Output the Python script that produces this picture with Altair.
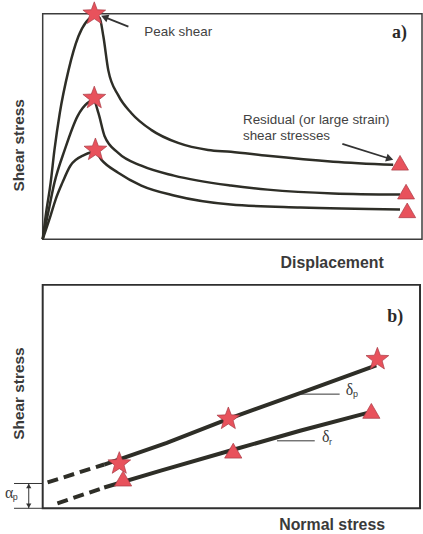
import math
import altair as alt
import pandas as pd

# ---------------- Panel a: shear stress vs displacement ----------------
c1_x = [0, 0.8, 2.1, 3.1, 4.5, 6.8, 9.4, 11.5, 12.9, 13.6, 15.0, 16.0, 17.3, 19.9, 23.4, 28.6, 35.7, 43.6, 49.6, 59.3, 76.6, 92.4]
c1_y = [0, 10.6, 25.1, 39.6, 55.9, 74.9, 89.9, 96.5, 98.7, 99.3, 98.2, 89.9, 74.9, 63.9, 55.9, 48.5, 42.7, 39.6, 38.8, 37.0, 34.4, 33.0]
c2_x = [0, 1.3, 3.1, 5.8, 9.2, 11.8, 13.4, 14.7, 16.3, 19.9, 26.0, 34.6, 49.6, 59.3, 76.6, 94.2]
c2_y = [0, 10.6, 25.1, 39.6, 54.6, 60.4, 61.7, 55.9, 45.8, 38.3, 32.6, 28.2, 23.8, 22.0, 20.3, 19.8]
c3_x = [0, 2.1, 3.4, 5.2, 7.3, 11.0, 13.9, 15.5, 19.9, 26.0, 34.6, 49.6, 68.0, 94.2]
c3_y = [0, 10.6, 17.6, 25.1, 32.6, 37.4, 38.8, 35.2, 29.5, 23.8, 19.4, 15.4, 14.1, 13.2]

peak_a_x = [13.6, 13.6, 13.9]
peak_a_y = [100.0, 62.6, 39.6]
resid_a_x = [94.2, 95.8, 96.1]
resid_a_y = [33.9, 21.1, 12.8]

notes_a = ["Peak shear", "Residual (or large strain)", "shear stresses"]
notes_a_x = [26.8, 52.8, 52.8]
notes_a_y = [92.1, 52.9, 45.8]

arrows_a_x = [22.6, 79.0]
arrows_a_y = [94.3, 42.3]
arrows_a_x2 = [16.3, 91.5]
arrows_a_y2 = [98.5, 35.7]

# ---------------- Panel b: shear stress vs normal stress ----------------
up_dash_x = [1.3, 16.3]
up_dash_y = [11.6, 19.6]
up_solid_x = [16.3, 32.9, 49.2, 68.2, 88.4]
up_solid_y = [19.6, 29.3, 40.0, 51.6, 64.0]
lo_dash_x = [3.9, 16.3]
lo_dash_y = [2.2, 9.3]
lo_solid_x = [16.3, 31.3, 50.5, 68.2, 86.1]
lo_solid_y = [9.3, 16.9, 26.2, 34.7, 42.7]

peak_b_x = [20.3, 49.2, 88.7]
peak_b_y = [20.0, 40.0, 66.7]
resid_b_x = [21.3, 50.5, 87.1]
resid_b_y = [13.3, 25.8, 43.6]

# leader lines for the friction angles and the cohesion bracket
lead_x = [68.2, 62.1, -7.6, -7.6, -3.7]
lead_x2 = [78.7, 72.1, 0.0, 0.0, -3.7]
lead_y = [51.1, 30.2, 11.1, 0.0, 0.0]
lead_y2 = [51.1, 30.2, 11.1, 0.0, 11.1]

heads_b_x = [-3.7, -3.7]
heads_b_y = [10.0, 1.1]
heads_b_ang = [0, 180]

greek = ["δ", "δ", "α"]
greek_x = [81.3, 75.0, -8.9]
greek_y = [52.9, 32.0, 6.7]
subs = ["p", "r", "p"]
subs_x = [82.9, 76.3, -7.3]
subs_y = [51.1, 29.8, 4.9]

# ---------------- styling ----------------
STAR = ("M0,-1L0.247,-0.34L0.951,-0.309L0.399,0.13L0.588,0.809L0,0.42"
        "L-0.588,0.809L-0.399,0.13L-0.951,-0.309L-0.247,-0.34Z")
INK = "#2e2e27"
TXT = "#3a3a3a"
NOTE = "#424242"
RED = "#e8525c"
EDGE = "#a83a44"
SANS = "Liberation Sans"
SERIF = "Liberation Serif"

WA, HA = 382, 227
WB, HB = 380, 225

sx = alt.Scale(domain=[0, 100], nice=False, zero=False)
sy = alt.Scale(domain=[0, 100], nice=False, zero=False)


def axis(title, **kw):
    return alt.Axis(title=title, labels=False, ticks=False, domain=False, grid=False,
                    titleFont=SANS, titleFontWeight="bold", titleColor=TXT,
                    titleAlign="center", titleBaseline="middle", **kw)


axA_x = axis("Displacement", titleFontSize=16, titleX=291, titleY=24)
axA_y = axis("Shear stress", titleFontSize=15.5, titleX=-24, titleY=132, titleAngle=270)
axB_x = axis("Normal stress", titleFontSize=16, titleX=291, titleY=16)
axB_y = axis("Shear stress", titleFontSize=15.5, titleX=-24, titleY=109, titleAngle=270)


def series_df(xs_list, ys_list, names):
    rows = []
    for n, xs, ys in zip(names, xs_list, ys_list):
        for i, (x, y) in enumerate(zip(xs, ys)):
            rows.append({"x": x, "y": y, "s": n, "i": i})
    return pd.DataFrame(rows)


def enc(ax, ay):
    return dict(x=alt.X("x:Q", scale=sx, axis=ax), y=alt.Y("y:Q", scale=sy, axis=ay))


# ---------------- panel a ----------------
curves = series_df([c1_x, c2_x, c3_x], [c1_y, c2_y, c3_y], ["c1", "c2", "c3"])
la = alt.Chart(curves).mark_line(interpolate="monotone", strokeWidth=2.5, color=INK).encode(
    detail="s:N", order="i:Q", **enc(axA_x, axA_y))

arr = pd.DataFrame({"x": arrows_a_x, "y": arrows_a_y, "x2": arrows_a_x2, "y2": arrows_a_y2})
arr["ang"] = [(math.degrees(math.atan2((b - a) * WA / 100, (d - c) * HA / 100))) % 360
              for a, b, c, d in zip(arrows_a_x, arrows_a_x2, arrows_a_y, arrows_a_y2)]
arr_rule = alt.Chart(arr).mark_rule(strokeWidth=1.8, color="#333").encode(
    x2="x2:Q", y2="y2:Q", **enc(axA_x, axA_y))
arr_head = alt.Chart(arr).mark_point(shape="triangle-up", filled=True, size=70, color="#333",
                                     opacity=1).encode(
    x=alt.X("x2:Q", scale=sx, axis=axA_x), y=alt.Y("y2:Q", scale=sy, axis=axA_y),
    angle=alt.Angle("ang:Q", scale=None))

stars_a = alt.Chart(pd.DataFrame({"x": peak_a_x, "y": peak_a_y})).mark_point(
    shape=STAR, size=580, filled=True, fill=RED, stroke=EDGE, strokeWidth=0.7, opacity=1
).encode(**enc(axA_x, axA_y))
tri_a = alt.Chart(pd.DataFrame({"x": resid_a_x, "y": resid_a_y})).mark_point(
    shape="triangle-up", size=290, filled=True, fill=RED, stroke=EDGE, strokeWidth=0.7, opacity=1
).encode(**enc(axA_x, axA_y))

txt_a = alt.Chart(pd.DataFrame({"x": notes_a_x, "y": notes_a_y, "t": notes_a})).mark_text(
    align="left", baseline="middle", font=SANS, fontSize=13.5, color=NOTE
).encode(text="t:N", **enc(axA_x, axA_y))
lab_a = alt.Chart(pd.DataFrame({"x": [92.1], "y": [91.6], "t": ["a)"]})).mark_text(
    align="left", baseline="middle", font=SERIF, fontWeight="bold", fontSize=18, color="#2a2a2a"
).encode(text="t:N", **enc(axA_x, axA_y))

panel_a = alt.layer(la, arr_rule, arr_head, stars_a, tri_a, txt_a, lab_a).properties(
    width=WA, height=HA, view=alt.ViewBackground(stroke="#3c3c3c", strokeWidth=1.5))

# ---------------- panel b ----------------
solid = series_df([up_solid_x, lo_solid_x], [up_solid_y, lo_solid_y], ["peak", "resid"])
dash = series_df([up_dash_x, lo_dash_x], [up_dash_y, lo_dash_y], ["peak", "resid"])
lb_solid = alt.Chart(solid).mark_line(strokeWidth=4, color=INK).encode(
    detail="s:N", order="i:Q", **enc(axB_x, axB_y))
lb_dash = alt.Chart(dash).mark_line(strokeWidth=4, color=INK, strokeDash=[11, 6]).encode(
    detail="s:N", order="i:Q", **enc(axB_x, axB_y))

lead = pd.DataFrame({"x": lead_x, "y": lead_y, "x2": lead_x2, "y2": lead_y2})
lead_rule = alt.Chart(lead).mark_rule(strokeWidth=1, color="#333").encode(
    x2="x2:Q", y2="y2:Q", **enc(axB_x, axB_y))
heads_b = alt.Chart(pd.DataFrame({"x": heads_b_x, "y": heads_b_y, "ang": heads_b_ang})).mark_point(
    shape="triangle-up", filled=True, size=28, color="#333", opacity=1
).encode(angle=alt.Angle("ang:Q", scale=None), **enc(axB_x, axB_y))

stars_b = alt.Chart(pd.DataFrame({"x": peak_b_x, "y": peak_b_y})).mark_point(
    shape=STAR, size=580, filled=True, fill=RED, stroke=EDGE, strokeWidth=0.7, opacity=1
).encode(**enc(axB_x, axB_y))
tri_b = alt.Chart(pd.DataFrame({"x": resid_b_x, "y": resid_b_y})).mark_point(
    shape="triangle-up", size=300, filled=True, fill=RED, stroke=EDGE, strokeWidth=0.7, opacity=1
).encode(**enc(axB_x, axB_y))

g_txt = alt.Chart(pd.DataFrame({"x": greek_x, "y": greek_y, "t": greek})).mark_text(
    align="center", baseline="middle", font=SERIF, fontSize=16, color=TXT
).encode(text="t:N", **enc(axB_x, axB_y))
s_txt = alt.Chart(pd.DataFrame({"x": subs_x, "y": subs_y, "t": subs})).mark_text(
    align="center", baseline="middle", font=SANS, fontSize=9, color=TXT
).encode(text="t:N", **enc(axB_x, axB_y))
lab_b = alt.Chart(pd.DataFrame({"x": [91.3], "y": [85.8], "t": ["b)"]})).mark_text(
    align="left", baseline="middle", font=SERIF, fontWeight="bold", fontSize=18, color="#2a2a2a"
).encode(text="t:N", **enc(axB_x, axB_y))

panel_b = alt.layer(lb_dash, lb_solid, lead_rule, heads_b, stars_b, tri_b, g_txt, s_txt, lab_b).properties(
    width=WB, height=HB, view=alt.ViewBackground(stroke="#2f2f2f", strokeWidth=2))

chart = alt.vconcat(panel_a, panel_b, spacing=46, bounds="flush").properties(
    padding={"left": 3, "top": -3, "right": 0, "bottom": 0}, background="white")

chart.save("out.html", embed_options={"renderer": "svg", "actions": False})
